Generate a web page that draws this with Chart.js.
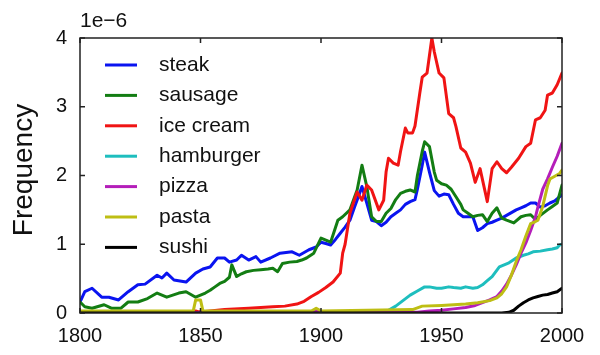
<!DOCTYPE html>
<html><head><meta charset="utf-8">
<script src="https://cdn.jsdelivr.net/npm/chart.js@4/dist/chart.umd.min.js"></script>
<style>html,body{margin:0;padding:0;background:#fff;}#wrap{width:600px;height:355px;}</style>
</head><body><div id="wrap"><canvas id="c" width="600" height="355"></canvas></div>
<script>
// ---- data (frequency in units of 1e-6) ----
const seriesNames = ["steak", "sausage", "ice cream", "hamburger", "pizza", "pasta", "sushi"];
const seriesColors = ["#0a14f0", "#137d13", "#f01414", "#1ebebe", "#b41eb9", "#bebe14", "#000000"];
const xTicks = [1800, 1850, 1900, 1950, 2000];
const yTicks = [0, 1, 2, 3, 4];

const steakYears  = [1800,1802,1805,1809,1812,1816,1820,1824,1827,1832,1834,1836,1839,1844,1848,1851,1854,1857,1860,1862,1865,1867,1870,1873,1875,1879,1883,1888,1891,1895,1898,1900,1902,1904,1906,1908,1910,1912,1914,1916,1917,1919,1921,1923,1925,1927,1929,1931,1933,1935,1937,1939,1940,1942,1943,1945,1947,1949,1951,1953,1955,1957,1959,1961,1963,1965,1967,1969,1971,1973,1975,1977,1979,1981,1983,1985,1987,1989,1991,1993,1995,1997,2000];
const steakValues = [0.16,0.31,0.36,0.23,0.23,0.19,0.31,0.41,0.42,0.55,0.51,0.58,0.48,0.45,0.58,0.64,0.67,0.80,0.80,0.74,0.77,0.84,0.77,0.82,0.74,0.80,0.87,0.89,0.84,0.92,0.96,1.03,1.01,0.99,1.07,1.16,1.25,1.35,1.55,1.74,1.84,1.60,1.35,1.33,1.27,1.32,1.40,1.45,1.50,1.58,1.62,1.65,1.80,2.15,2.34,2.05,1.78,1.70,1.73,1.72,1.58,1.45,1.40,1.40,1.40,1.20,1.24,1.30,1.32,1.35,1.38,1.42,1.46,1.50,1.53,1.56,1.60,1.60,1.54,1.56,1.60,1.63,1.72];

const sausageYears  = [1800,1802,1805,1810,1813,1817,1820,1824,1828,1832,1836,1841,1844,1848,1852,1854,1856,1858,1860,1862,1863,1865,1867,1869,1872,1875,1878,1880,1882,1884,1887,1890,1892,1894,1897,1900,1902,1904,1907,1909,1912,1915,1917,1919,1921,1923,1925,1927,1929,1931,1933,1935,1937,1939,1940,1942,1943,1945,1947,1948,1950,1952,1954,1956,1958,1959,1961,1963,1965,1967,1969,1971,1973,1975,1977,1980,1983,1985,1987,1989,1991,1994,1996,1998,2000];
const sausageValues = [0.16,0.09,0.07,0.12,0.07,0.07,0.16,0.16,0.21,0.29,0.23,0.29,0.31,0.23,0.29,0.33,0.38,0.43,0.46,0.52,0.70,0.53,0.57,0.60,0.62,0.63,0.64,0.65,0.60,0.72,0.74,0.75,0.77,0.80,0.87,1.09,1.06,1.03,1.35,1.40,1.50,1.79,2.15,1.84,1.40,1.33,1.33,1.45,1.52,1.65,1.74,1.77,1.79,1.76,2.00,2.35,2.49,2.42,2.05,1.93,1.88,1.86,1.80,1.69,1.58,1.50,1.45,1.40,1.42,1.43,1.33,1.45,1.53,1.38,1.35,1.31,1.40,1.42,1.43,1.36,1.42,1.50,1.55,1.60,1.86];

const iceCreamYears  = [1800,1845,1847,1848,1849,1851,1860,1870,1880,1885,1890,1893,1896,1899,1902,1905,1908,1909,1910,1912,1915,1917,1919,1921,1924,1926,1927,1928,1930,1932,1933,1935,1936,1938,1939,1941,1942,1944,1946,1947,1949,1951,1953,1955,1956,1958,1960,1962,1964,1966,1969,1971,1973,1975,1977,1979,1982,1985,1987,1989,1991,1993,1994,1996,1998,2000];
const iceCreamValues = [0.00,0.00,0.02,0.03,0.02,0.02,0.05,0.07,0.09,0.10,0.13,0.17,0.24,0.30,0.37,0.45,0.58,0.87,1.00,1.45,1.76,1.64,1.86,1.79,1.50,1.64,2.05,2.25,2.18,2.15,2.35,2.69,2.62,2.62,2.72,3.20,3.43,3.49,4.00,3.80,3.49,3.42,2.90,2.84,2.71,2.40,2.34,2.18,1.90,2.10,1.62,2.10,2.20,2.10,2.04,2.12,2.25,2.42,2.47,2.81,2.84,2.95,3.17,3.20,3.32,3.49];

const hamburgerYears  = [1800,1900,1925,1928,1931,1934,1937,1940,1943,1945,1948,1950,1953,1955,1958,1960,1963,1965,1967,1969,1971,1974,1978,1981,1984,1986,1988,1991,1994,1996,1998,1999,2000];
const hamburgerValues = [0.00,0.01,0.02,0.04,0.10,0.18,0.26,0.32,0.38,0.38,0.36,0.36,0.38,0.37,0.36,0.38,0.36,0.37,0.41,0.47,0.53,0.67,0.73,0.80,0.84,0.86,0.89,0.90,0.92,0.93,0.95,0.99,1.00];

const pizzaYears  = [1800,1895,1898,1901,1940,1945,1950,1955,1960,1964,1967,1970,1973,1975,1977,1979,1981,1983,1985,1987,1989,1990,1992,1994,1996,1998,2000];
const pizzaValues = [0.00,0.01,0.03,0.01,0.01,0.03,0.04,0.06,0.08,0.11,0.15,0.19,0.24,0.32,0.42,0.55,0.70,0.87,1.02,1.20,1.40,1.54,1.80,1.95,2.12,2.28,2.47];

const pastaYears  = [1800,1845,1847,1848,1850,1851,1896,1898,1900,1938,1942,1950,1960,1965,1970,1973,1975,1977,1979,1981,1983,1985,1987,1989,1990,1992,1994,1995,1997,1999,2000];
const pastaValues = [0.03,0.03,0.03,0.19,0.19,0.03,0.03,0.07,0.03,0.05,0.10,0.11,0.13,0.15,0.18,0.22,0.28,0.38,0.55,0.75,0.92,1.12,1.30,1.33,1.35,1.55,1.85,1.95,1.99,2.03,2.08];

const sushiYears  = [1800,1950,1975,1978,1980,1982,1984,1986,1988,1990,1992,1994,1996,1998,2000];
const sushiValues = [0.00,0.00,0.00,0.01,0.04,0.10,0.15,0.19,0.22,0.24,0.26,0.27,0.29,0.31,0.36];

const allYears  = [steakYears, sausageYears, iceCreamYears, hamburgerYears, pizzaYears, pastaYears, sushiYears];
const allValues = [steakValues, sausageValues, iceCreamValues, hamburgerValues, pizzaValues, pastaValues, sushiValues];

const FONT = "'Liberation Sans', Arial, Helvetica, sans-serif";

const datasets = seriesNames.map((name, i) => ({
  label: name,
  data: allYears[i].map((yr, k) => ({x: yr, y: allValues[i][k]})),
  borderColor: seriesColors[i],
  backgroundColor: seriesColors[i],
  borderWidth: 3,
  pointRadius: 0,
  tension: 0,
  fill: false,
  order: seriesNames.length - i,
  borderJoinStyle: 'round',
  borderCapStyle: 'round'
}));

const framePlugin = {
  id: 'frame',
  afterDraw(chart) {
    const ctx = chart.ctx;
    const a = chart.chartArea;
    const xs = chart.scales.x, ys = chart.scales.y;
    ctx.save();
    ctx.strokeStyle = '#222';
    ctx.lineWidth = 1.5;
    ctx.strokeRect(a.left, a.top, a.right - a.left, a.bottom - a.top);
    ctx.beginPath();
    xTicks.forEach(v => {
      const px = xs.getPixelForValue(v);
      ctx.moveTo(px, a.bottom); ctx.lineTo(px, a.bottom - 5);
      ctx.moveTo(px, a.top); ctx.lineTo(px, a.top + 5);
    });
    yTicks.forEach(v => {
      const py = ys.getPixelForValue(v);
      ctx.moveTo(a.left, py); ctx.lineTo(a.left + 5, py);
      ctx.moveTo(a.right, py); ctx.lineTo(a.right - 5, py);
    });
    ctx.stroke();

    // legend inside plot
    ctx.textAlign = 'left';
    ctx.textBaseline = 'middle';
    ctx.font = '21px ' + FONT;
    seriesNames.forEach((name, i) => {
      const y = 65 + i * 30.4;
      ctx.strokeStyle = seriesColors[i];
      ctx.lineWidth = 3;
      ctx.beginPath();
      ctx.moveTo(105, y); ctx.lineTo(137, y);
      ctx.stroke();
      ctx.fillStyle = '#111';
      ctx.fillText(name, 159, y);
    });

    // axis title and exponent
    ctx.fillStyle = '#111';
    ctx.font = '21px ' + FONT;
    ctx.textAlign = 'left';
    ctx.textBaseline = 'middle';
    ctx.fillText('1e\u22126', 80, 21);
    ctx.save();
    ctx.translate(32, 170);
    ctx.rotate(-Math.PI / 2);
    ctx.font = '28px ' + FONT;
    ctx.textAlign = 'center';
    ctx.textBaseline = 'alphabetic';
    ctx.fillText('Frequency', 0, 0);
    ctx.restore();
    ctx.restore();
  }
};

new Chart(document.getElementById('c'), {
  type: 'line',
  data: { datasets },
  options: {
    responsive: false,
    devicePixelRatio: 1,
    animation: false,
    events: [],
    layout: { padding: { top: 38, right: 38, left: 0, bottom: 0 } },
    plugins: { legend: { display: false }, tooltip: { enabled: false } },
    scales: {
      x: {
        type: 'linear', min: 1800, max: 2000,
        afterBuildTicks: s => { s.ticks = xTicks.map(v => ({value: v})); },
        afterFit: s => { s.height = 42; },
        grid: { display: false, drawTicks: false },
        border: { display: false },
        ticks: { padding: 11, color: '#111', font: { size: 20, family: FONT }, maxRotation: 0, autoSkip: false,
                 callback: v => String(v) }
      },
      y: {
        type: 'linear', min: 0, max: 4,
        afterBuildTicks: s => { s.ticks = yTicks.map(v => ({value: v})); },
        afterFit: s => { s.width = 80; },
        grid: { display: false, drawTicks: false },
        border: { display: false },
        ticks: { padding: 13, color: '#111', font: { size: 20, family: FONT }, callback: v => String(v) }
      }
    }
  },
  plugins: [framePlugin]
});
</script>
</body></html>
